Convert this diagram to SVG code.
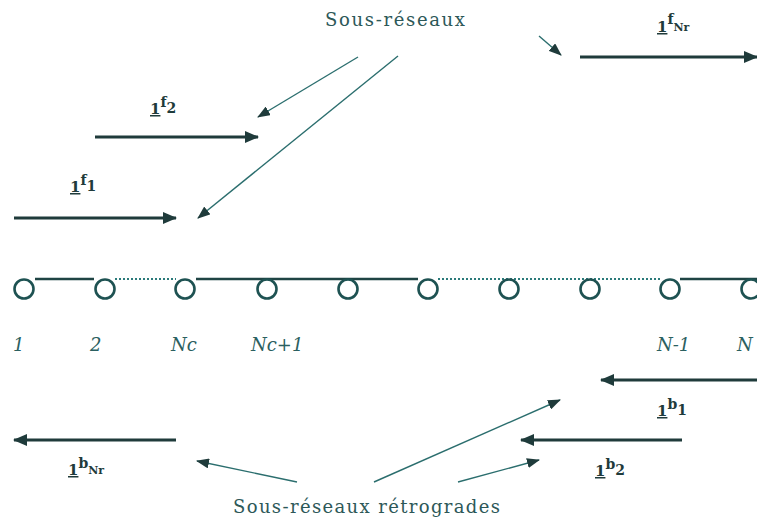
<svg xmlns="http://www.w3.org/2000/svg" width="757" height="525" viewBox="0 0 757 525">
<style>
.thick{stroke:#1f3b3b;stroke-width:3;fill:none}
.thin{stroke:#2b6e6e;stroke-width:1.4;fill:none}
.solid{stroke:#1f4444;stroke-width:2.5;fill:none}
.dot{stroke:#2b7a7a;stroke-width:2;stroke-dasharray:2 2;fill:none}
.node{fill:#fff;stroke:#1e5252;stroke-width:2.6}
text{font-family:"DejaVu Serif",serif}
.lbl{font-weight:bold;fill:#1f3b3b}
.nl{font-style:italic;font-size:18px;fill:#2b6060}
.cap{font-size:18px;fill:#2d5858}
</style>
<defs>
<marker id="ah" markerUnits="userSpaceOnUse" markerWidth="14" markerHeight="12" refX="13" refY="6" orient="auto"><path d="M0,0 L14,6 L0,12 Z" fill="#1f3b3b"/></marker>
<marker id="at" markerUnits="userSpaceOnUse" markerWidth="13" markerHeight="10" refX="12" refY="5" orient="auto"><path d="M0,0 L13,5 L0,10 Z" fill="#1f3b3b"/></marker>
</defs>
<g id="connectors">
<line class="thick" x1="14" y1="218" x2="176" y2="218" marker-end="url(#ah)"/>
<line class="thick" x1="95" y1="137" x2="258" y2="137" marker-end="url(#ah)"/>
<line class="thick" x1="580" y1="57" x2="757" y2="57" marker-end="url(#ah)"/>
<line class="thick" x1="757" y1="380" x2="601" y2="380" marker-end="url(#ah)"/>
<line class="thick" x1="682" y1="440" x2="521" y2="440" marker-end="url(#ah)"/>
<line class="thick" x1="176" y1="440" x2="14" y2="440" marker-end="url(#ah)"/>
<line class="thin" x1="358" y1="57" x2="258" y2="117" marker-end="url(#at)"/>
<line class="thin" x1="398" y1="56" x2="198" y2="218" marker-end="url(#at)"/>
<line class="thin" x1="539" y1="36" x2="561" y2="55" marker-end="url(#at)"/>
<line class="thin" x1="297" y1="482" x2="197" y2="461" marker-end="url(#at)"/>
<line class="thin" x1="374" y1="482" x2="560" y2="400" marker-end="url(#at)"/>
<line class="thin" x1="458" y1="482" x2="539" y2="460" marker-end="url(#at)"/>
<line class="solid" x1="35" y1="279" x2="94" y2="279"/>
<line class="dot" x1="115" y1="279" x2="176" y2="279"/>
<line class="solid" x1="196" y1="279" x2="418" y2="279"/>
<line class="dot" x1="438" y1="279" x2="660" y2="279"/>
<line class="solid" x1="680" y1="279" x2="757" y2="279"/>
</g>
<g id="n1"><circle class="node" cx="24" cy="289" r="9.5"/><text class="nl" x="13" y="351">1</text></g>
<g id="n2"><circle class="node" cx="105" cy="289" r="9.5"/><text class="nl" x="90" y="351">2</text></g>
<g id="nNc"><circle class="node" cx="185" cy="289" r="9.5"/><text class="nl" x="171" y="351">Nc</text></g>
<g id="nNc1"><circle class="node" cx="267" cy="289" r="9.5"/><text class="nl" x="251" y="351">Nc+1</text></g>
<g id="n5"><circle class="node" cx="348" cy="289" r="9.5"/></g>
<g id="n6"><circle class="node" cx="428" cy="289" r="9.5"/></g>
<g id="n7"><circle class="node" cx="509" cy="289" r="9.5"/></g>
<g id="n8"><circle class="node" cx="590" cy="289" r="9.5"/></g>
<g id="nN1"><circle class="node" cx="670" cy="289" r="9.5"/><text class="nl" x="657" y="351">N-1</text></g>
<g id="nN"><circle class="node" cx="751" cy="289" r="9.5"/><text class="nl" x="737" y="351">N</text></g>
<g id="labels">
<text class="lbl" x="150" y="114" font-size="15"><tspan text-decoration="underline">1</tspan><tspan font-size="14" dy="-7">f</tspan><tspan font-size="14" dy="6">2</tspan></text>
<text class="lbl" x="70" y="192" font-size="15"><tspan text-decoration="underline">1</tspan><tspan font-size="14" dy="-7">f</tspan><tspan font-size="14" dy="6">1</tspan></text>
<text class="lbl" x="657" y="32" font-size="15"><tspan text-decoration="underline">1</tspan><tspan font-size="14" dy="-8">f</tspan><tspan font-size="11" dy="7">Nr</tspan></text>
<text class="lbl" x="657" y="416" font-size="15"><tspan text-decoration="underline">1</tspan><tspan font-size="14" dy="-7">b</tspan><tspan font-size="14" dy="6">1</tspan></text>
<text class="lbl" x="595" y="476" font-size="15"><tspan text-decoration="underline">1</tspan><tspan font-size="14" dy="-7">b</tspan><tspan font-size="14" dy="6">2</tspan></text>
<text class="lbl" x="68" y="475" font-size="15"><tspan text-decoration="underline">1</tspan><tspan font-size="14" dy="-7">b</tspan><tspan font-size="11" dy="6">Nr</tspan></text>
<text class="cap" x="325" y="26" textLength="140" lengthAdjust="spacing">Sous-réseaux</text>
<text class="cap" x="233" y="513" textLength="267" lengthAdjust="spacing">Sous-réseaux rétrogrades</text>
</g>
</svg>
